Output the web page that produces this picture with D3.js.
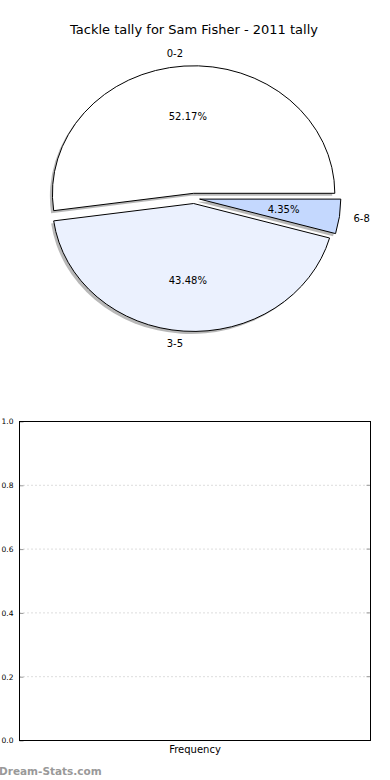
<!DOCTYPE html>
<html>
<head>
<meta charset="utf-8">
<script src="https://cdn.jsdelivr.net/npm/d3@7"></script>
<style>
  body { margin: 0; background: #fff; }
  svg { display: block; font-family: "DejaVu Sans", sans-serif; }
</style>
</head>
<body>
<div id="chart"></div>
<script>
// pie data
var categories = ["0-2", "3-5", "6-8"];
var tallies = [12, 10, 1];
var sliceColors = ["#ffffff", "#ebf1fe", "#c4d8fe"];
var title = "Tackle tally for Sam Fisher - 2011 tally";

// empty frequency axes
var yTicks = [0, 0.2, 0.4, 0.6, 0.8, 1.0];
var xLabel = "Frequency";

var width = 390, height = 780;

var svg = d3.select('#chart').append('svg')
    .attr('width', width)
    .attr('height', height);

svg.append('text')
    .attr('x', 194)
    .attr('y', 34)
    .attr('text-anchor', 'middle')
    .style('font-size', '13px')
    .text(title);

// pie is drawn in unit coords and stretched into an ellipse
var cx = 194, cy = 198.4, rx = 141.2, ry = 127.8;
var explode = 0.04;
var px = d3.scaleLinear().domain([-1, 1]).range([cx - rx, cx + rx]);
var py = d3.scaleLinear().domain([-1, 1]).range([cy + ry, cy - ry]);

var total = d3.sum(tallies);

// start at 3 o'clock, go counter clockwise
var pie = d3.pie().sort(null)
    .startAngle(Math.PI / 2)
    .endAngle(Math.PI / 2 - 2 * Math.PI);

var arcs = pie(tallies);
var arc = d3.arc().innerRadius(0).outerRadius(1);

function mid(d) { return (d.startAngle + d.endAngle) / 2; }
function offX(d) { return Math.sin(mid(d)) * explode; }
function offY(d) { return Math.cos(mid(d)) * explode; }

var pieG = svg.append('g');

// shadows first
pieG.selectAll('path.shadow').data(arcs)
  .enter().append('path')
    .attr('class', 'shadow')
    .attr('d', arc)
    .attr('transform', function(d) {
        return 'translate(' + px(offX(d) - 0.018) + ',' + py(offY(d) - 0.02) + ') scale(' + rx + ',' + ry + ')';
    })
    .style('fill', '#888')
    .style('opacity', 0.6);

pieG.selectAll('path.slice').data(arcs)
  .enter().append('path')
    .attr('class', 'slice')
    .attr('d', arc)
    .attr('transform', function(d) {
        return 'translate(' + px(offX(d)) + ',' + py(offY(d)) + ') scale(' + rx + ',' + ry + ')';
    })
    .attr('vector-effect', 'non-scaling-stroke')
    .style('fill', function(d, i) { return sliceColors[i]; })
    .style('stroke', '#000')
    .style('stroke-width', 1);

// category labels outside
pieG.selectAll('text.cat').data(arcs)
  .enter().append('text')
    .attr('class', 'cat')
    .attr('x', function(d) { return px(offX(d) + 1.1 * Math.sin(mid(d))); })
    .attr('y', function(d) { return py(offY(d) + 1.1 * Math.cos(mid(d))); })
    .attr('dy', '0.35em')
    .attr('text-anchor', function(d) { return Math.sin(mid(d)) > 0 ? 'start' : 'end'; })
    .style('font-size', '10px')
    .text(function(d, i) { return categories[i]; });

// percentages inside
pieG.selectAll('text.pct').data(arcs)
  .enter().append('text')
    .attr('class', 'pct')
    .attr('x', function(d) { return px(offX(d) + 0.6 * Math.sin(mid(d))); })
    .attr('y', function(d) { return py(offY(d) + 0.6 * Math.cos(mid(d))); })
    .attr('dy', '0.35em')
    .attr('text-anchor', 'middle')
    .style('font-size', '10px')
    .text(function(d) { return (d.value / total * 100).toFixed(2) + '%'; });

// bottom axes
var axLeft = 19.5, axRight = 370.5, axTop = 421.5, axBottom = 740.5;
var yScale = d3.scaleLinear().domain([0, 1]).range([axBottom, axTop]);

var axG = svg.append('g');

axG.selectAll('line.grid').data(yTicks)
  .enter().append('line')
    .attr('class', 'grid')
    .attr('x1', axLeft).attr('x2', axRight)
    .attr('y1', function(d) { return yScale(d); })
    .attr('y2', function(d) { return yScale(d); })
    .style('stroke', '#bbb')
    .style('stroke-dasharray', '1,3');

var yAxis = d3.axisLeft(yScale)
    .tickValues(yTicks)
    .tickFormat(d3.format('.1f'))
    .tickSizeInner(-4)
    .tickSizeOuter(0)
    .tickPadding(6);

var gy = axG.append('g')
    .attr('transform', 'translate(' + axLeft + ',0)')
    .call(yAxis);
gy.select('.domain').remove();
gy.selectAll('line').style('stroke', '#999');
gy.selectAll('text')
    .style('font-size', '7.5px')
    .style('font-family', '"DejaVu Sans", sans-serif')
    .style('fill', '#000');

// right side ticks
axG.selectAll('line.rtick').data(yTicks)
  .enter().append('line')
    .attr('class', 'rtick')
    .attr('x1', axRight - 4).attr('x2', axRight)
    .attr('y1', function(d) { return yScale(d); })
    .attr('y2', function(d) { return yScale(d); })
    .style('stroke', '#999');

axG.append('rect')
    .attr('x', axLeft).attr('y', axTop)
    .attr('width', axRight - axLeft).attr('height', axBottom - axTop)
    .style('fill', 'none')
    .style('stroke', '#000')
    .style('stroke-width', 1);

axG.append('text')
    .attr('x', (axLeft + axRight) / 2)
    .attr('y', 753)
    .attr('text-anchor', 'middle')
    .style('font-size', '10px')
    .text(xLabel);

svg.append('text')
    .attr('x', -1)
    .attr('y', 775)
    .style('font-size', '10.5px')
    .style('font-weight', 'bold')
    .style('fill', '#999')
    .text('Dream-Stats.com');
</script>
</body>
</html>
